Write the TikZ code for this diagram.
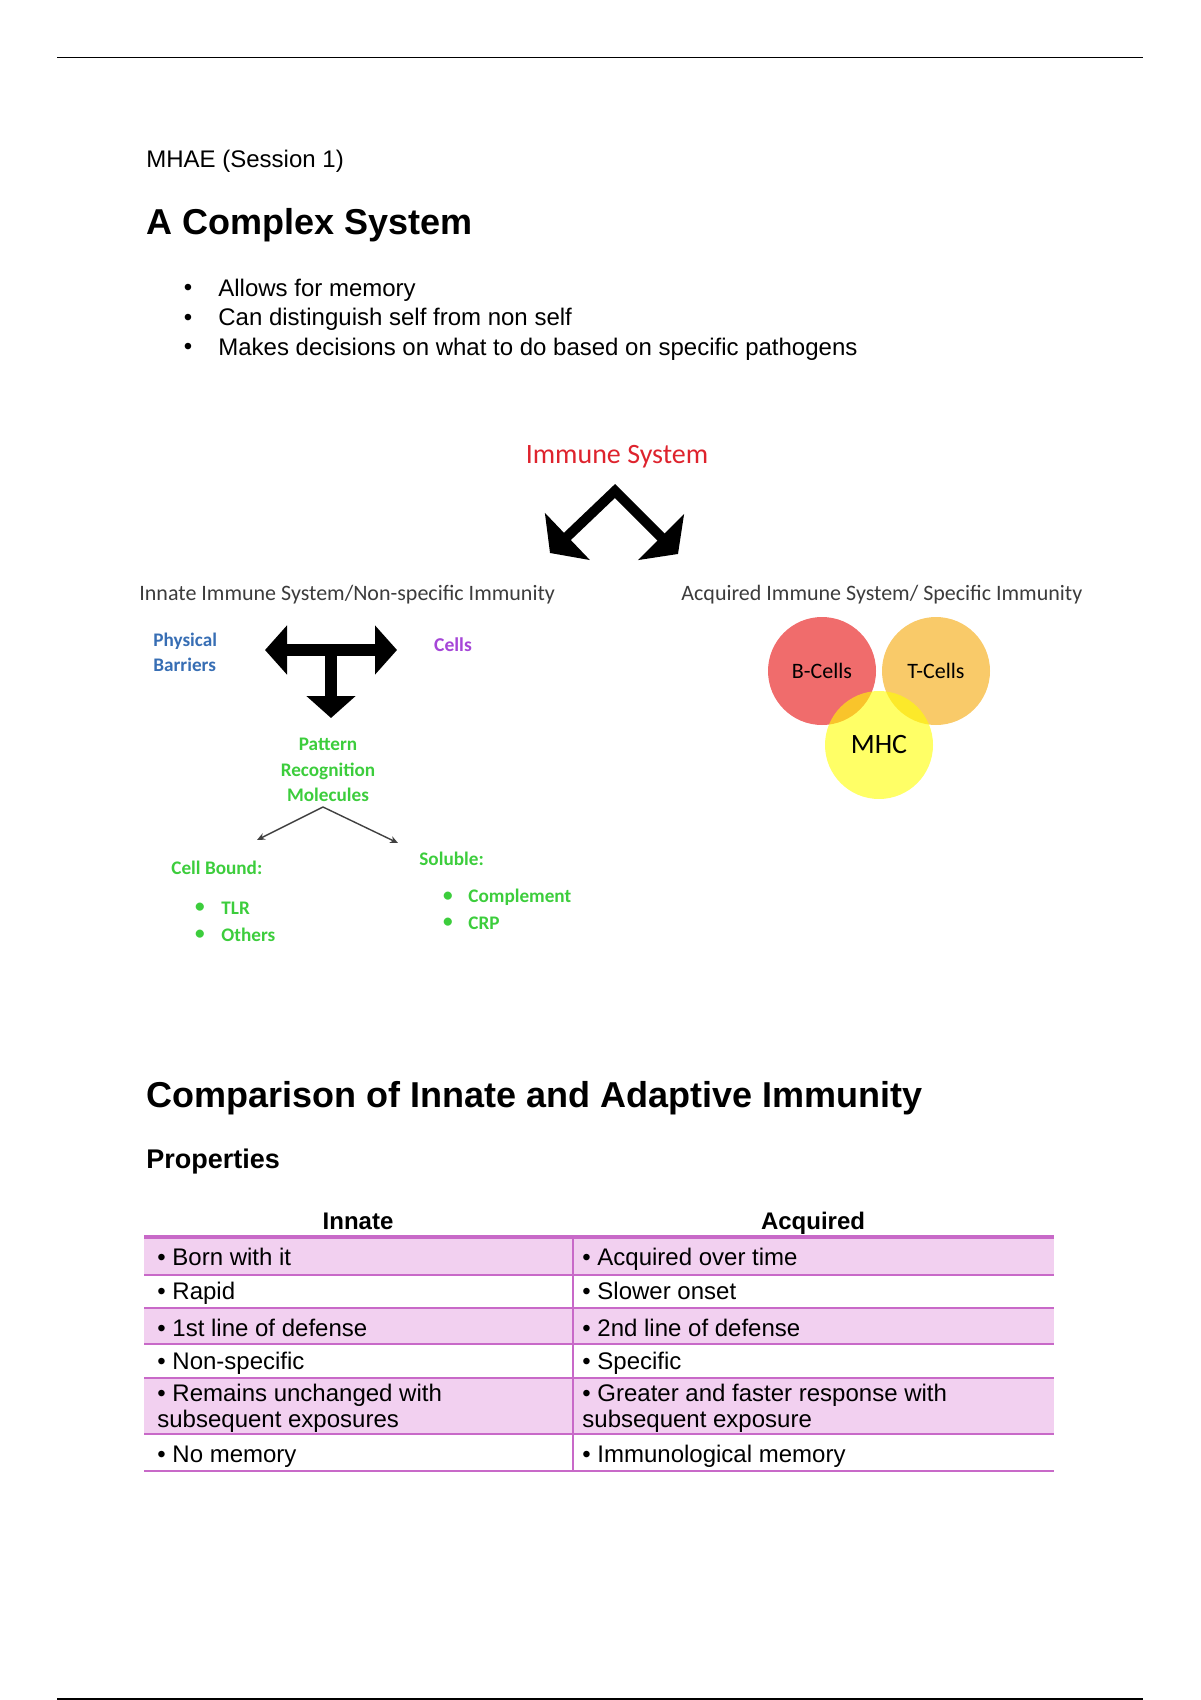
\documentclass[tikz,border=0pt]{standalone}
\usepackage{fontspec}
\setmainfont{Liberation Sans}
\newfontfamily\calibri{Carlito}
\usetikzlibrary{arrows.meta}

\definecolor{imred}{RGB}{222,35,45}
\definecolor{barblue}{RGB}{55,110,180}
\definecolor{cellpurple}{RGB}{165,70,215}
\definecolor{prmgreen}{RGB}{60,205,60}
\definecolor{headgray}{RGB}{60,60,60}
\definecolor{bcellred}{RGB}{240,108,108}
\definecolor{tcellorange}{RGB}{249,202,105}
\definecolor{mhcyellow}{RGB}{255,255,0}
\definecolor{rowpink}{RGB}{242,208,240}
\definecolor{rowline}{RGB}{200,105,200}

\begin{document}
\begin{tikzpicture}[x=0.5pt, y=-0.5pt,
    bigarrow/.style={line width=5pt, {Triangle[length=12pt,width=32pt]}-{Triangle[length=12pt,width=32pt]}},
    tarrow/.style={line width=6pt, -{Triangle[length=11pt,width=24pt]}},
    thinarrow/.style={draw=darkgray, line width=0.7pt, -{Stealth[length=4pt,width=3.5pt]}},
    greenlbl/.style={text=prmgreen, inner sep=0pt, font=\calibri\bfseries\fontsize{9.6}{12.75}\selectfont},
    vcircle/.style={circle, minimum size=54pt, inner sep=0pt},
    celltext/.style={anchor=base west, inner sep=0pt, font=\fontsize{12}{13}\selectfont},
]
\useasboundingbox (0,0) rectangle (1200,1700);

% Page rules
\draw[line width=0.8pt] (57,57.5) -- (1143,57.5);
\draw[line width=0.8pt] (57,1699) -- (1143,1699);

% Heading and bullets
\node[anchor=west, inner sep=0pt, font=\fontsize{12}{14}\selectfont] (session) at (146,161) {MHAE (Session 1)};
\node[anchor=west, inner sep=0pt, font=\bfseries\fontsize{18}{20}\selectfont] (title) at (146,225) {A Complex System};
\foreach \t [count=\i] in {Allows for memory, Can distinguish self from non self, Makes decisions on what to do based on specific pathogens}{
  \node[inner sep=0pt, font=\fontsize{12}{14}\selectfont] (dot\i) at (188,290+29.5*\i-29.5) {•};
  \node[anchor=west, inner sep=0pt, font=\fontsize{12}{14}\selectfont] (item\i) at (218,290+29.5*\i-29.5) {\t};
}

% Immune system split
\node[text=imred, font=\calibri\fontsize{14}{16}\selectfont] (imsys) at (617,457) {Immune System};
\coordinate (apex) at (615,491);
\coordinate (ltip) at (550,553);
\coordinate (rtip) at (678,554);
\draw[bigarrow] (ltip) -- (apex) -- (rtip);

\node[anchor=west, inner sep=0pt, text=headgray, font=\calibri\fontsize{11}{13}\selectfont] (innate) at (139,595) {Innate Immune System/Non-specific Immunity};
\node[anchor=west, inner sep=0pt, text=headgray, font=\calibri\fontsize{11}{13}\selectfont] (acquired) at (681,595) {Acquired Immune System/ Specific Immunity};

% Innate branch
\node[anchor=west, align=left, inner sep=0pt, text=barblue, font=\calibri\bfseries\fontsize{9.6}{12.5}\selectfont] (barriers) at (153,652) {Physical\\Barriers};
\node[text=cellpurple, inner sep=0pt, font=\calibri\bfseries\fontsize{9.8}{12}\selectfont] (cells) at (453,645) {Cells};
\coordinate (tleft) at (265,650);
\coordinate (tright) at (397,650);
\coordinate (tmid) at (331,650);
\coordinate (tdown) at (331,718);
\draw[tarrow, {Triangle[length=11pt,width=24pt]}-{Triangle[length=11pt,width=24pt]}] (tleft) -- (tright);
\draw[tarrow] (tmid) -- (tdown);

\node[greenlbl, align=center] (prm) at (328,770) {Pattern\\Recognition\\Molecules};
\coordinate (split) at (323,807);
\coordinate (cbtip) at (257,840);
\coordinate (soltip) at (398,843);
\draw[thinarrow] (split) -- (cbtip);
\draw[thinarrow] (split) -- (soltip);

\node[greenlbl, anchor=west] (cellbound) at (171,868) {Cell Bound:};
\node[greenlbl] (cbdot1) at (200,908) {•};
\node[greenlbl, anchor=west] (tlr) at (221,908) {TLR};
\node[greenlbl] (cbdot2) at (200,935) {•};
\node[greenlbl, anchor=west] (others) at (221,935) {Others};
\node[greenlbl, anchor=west] (soluble) at (419,859) {Soluble:};
\node[greenlbl] (soldot1) at (448,897) {•};
\node[greenlbl, anchor=west] (complement) at (468,897) {Complement};
\node[greenlbl] (soldot2) at (448,923) {•};
\node[greenlbl, anchor=west] (crp) at (468,923) {CRP};

% Acquired branch
\node[vcircle, fill=bcellred, font=\calibri\fontsize{11}{13}\selectfont] (bcells) at (822,671) {B-Cells};
\node[vcircle, fill=tcellorange, font=\calibri\fontsize{11}{13}\selectfont] (tcells) at (936,671) {T-Cells};
\node[vcircle, fill=mhcyellow, fill opacity=0.6, text opacity=1, font=\calibri\fontsize{14}{16}\selectfont] (mhc) at (879,745) {MHC};

% Comparison table
\node[anchor=west, inner sep=0pt, font=\bfseries\fontsize{18}{20}\selectfont] (comp) at (146,1098) {Comparison of Innate and Adaptive Immunity};
\node[anchor=west, inner sep=0pt, font=\bfseries\fontsize{13.5}{15}\selectfont] (props) at (146,1162) {Properties};
\node[anchor=base, inner sep=0pt, font=\bfseries\fontsize{12}{14}\selectfont] (hinnate) at (358,1229) {Innate};
\node[anchor=base, inner sep=0pt, font=\bfseries\fontsize{12}{14}\selectfont] (hacq) at (813,1229) {Acquired};

\foreach \ya/\yb in {1237/1275, 1308/1344, 1378/1434}
  \fill[rowpink] (144,\ya) rectangle (1054,\yb);
\foreach \y in {1275,1308,1344,1378,1434,1471}
  \draw[rowline, line width=1pt] (144,\y) -- (1054,\y);
\draw[rowline, line width=1.6pt] (144,1237) -- (1054,1237);
\draw[rowline, line width=0.8pt] (573,1237) -- (573,1471);

\foreach \y/\a/\b in {1265/Born with it/Acquired over time, 1299/Rapid/Slower onset, 1336/1st line of defense/2nd line of defense, 1369/Non-specific/Specific, 1462/No memory/Immunological memory}{
  \node[celltext] (inn\y) at (157,\y) {• \a};
  \node[celltext] (acq\y) at (582,\y) {• \b};
}
\node[celltext, anchor=west, align=left] (inn1408) at (157,1408) {• Remains unchanged with\\subsequent exposures};
\node[celltext, anchor=west, align=left] (acq1408) at (582,1408) {• Greater and faster response with\\subsequent exposure};
\end{tikzpicture}
\end{document}
